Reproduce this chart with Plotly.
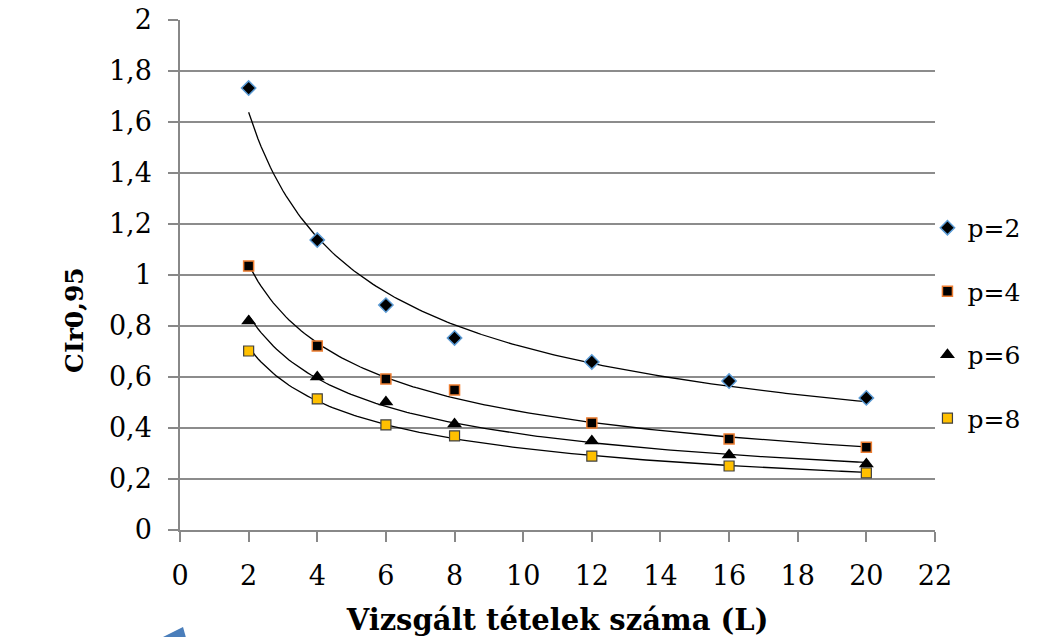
import numpy as np
import plotly.graph_objects as go

L_values = [2, 4, 6, 8, 12, 16, 20]
p2 = [1.733, 1.137, 0.882, 0.753, 0.659, 0.584, 0.518]
p4 = [1.035, 0.722, 0.592, 0.549, 0.420, 0.357, 0.325]
p6 = [0.820, 0.600, 0.502, 0.416, 0.349, 0.294, 0.259]
p8 = [0.702, 0.514, 0.412, 0.369, 0.290, 0.251, 0.224]
series_names = ["p=2", "p=4", "p=6", "p=8"]
x_ticks = list(range(0, 23, 2))
y_ticks = [0, 0.2, 0.4, 0.6, 0.8, 1, 1.2, 1.4, 1.6, 1.8, 2]
y_ticktext = ["0", "0,2", "0,4", "0,6", "0,8", "1", "1,2", "1,4", "1,6", "1,8", "2"]

FONT = "DejaVu Serif"
styles = [
    dict(symbol="diamond", size=11, color="black", line=dict(color="#5B9BD5", width=1.5)),
    dict(symbol="square", size=10, color="black", line=dict(color="#ED7D31", width=1.5)),
    dict(symbol="triangle-up", size=13, color="black", line=dict(color="black", width=0)),
    dict(symbol="square", size=10, color="#FFC000", line=dict(color="#404040", width=1.2)),
]

fig = go.Figure()
xs = np.array(L_values, dtype=float)
xfit = np.linspace(xs.min(), xs.max(), 200)
for name, ys, st in zip(series_names, [p2, p4, p6, p8], styles):
    # power-law trendline fitted from the data (as in the source spreadsheet)
    b, loga = np.polyfit(np.log(xs), np.log(np.array(ys)), 1)
    yfit = np.exp(loga) * xfit ** b
    fig.add_trace(go.Scatter(x=xfit, y=yfit, mode="lines",
                             line=dict(color="black", width=1.3),
                             showlegend=False, hoverinfo="skip"))
for name, ys, st in zip(series_names, [p2, p4, p6, p8], styles):
    fig.add_trace(go.Scatter(x=L_values, y=ys, mode="markers", name=name,
                             legendgroup=name, marker=st))

axis_common = dict(showline=True, linecolor="#888888", linewidth=1.5,
                   ticks="outside", ticklen=10, tickcolor="#888888", tickwidth=1.5,
                   zeroline=False, ticklabeloverflow="allow", automargin=False,
                   tickfont=dict(family=FONT, size=27, color="black"))
fig.update_xaxes(range=[0, 22], tickvals=x_ticks, showgrid=False,
                 ticklabelstandoff=11,
                 title=dict(text="<b>Vizsgált tételek száma (L)</b>",
                            font=dict(family=FONT, size=29, color="black"), standoff=20),
                 **axis_common)
fig.update_yaxes(range=[0, 2], tickvals=y_ticks, ticktext=y_ticktext,
                 showgrid=True, gridcolor="#8c8c8c", gridwidth=1.5,
                 ticklabelstandoff=11,
                 **axis_common)

fig.update_layout(
    width=1051, height=637,
    margin=dict(l=172, r=124, t=12, b=115),
    paper_bgcolor="white", plot_bgcolor="white",
    font=dict(family=FONT, size=25, color="black"),
    legend=dict(x=0.99, y=0.406, xanchor="left", yanchor="middle",
                tracegroupgap=28, font=dict(family=FONT, size=25, color="black"),
                bgcolor="rgba(0,0,0,0)"),
    annotations=[dict(text="<b>CIr0,95</b>", xref="paper", yref="paper",
                      x=-0.139, y=0.412, xanchor="center", yanchor="middle",
                      textangle=-90, showarrow=False,
                      font=dict(family=FONT, size=25, color="black"))],
    shapes=[dict(type="path", xref="paper", yref="paper",
                 path="M -0.0437 -0.2255 L 0.0040 -0.1902 L 0.0106 -0.2255 Z",
                 fillcolor="#4A7EBB", line=dict(width=0))],
)
fig.write_html("out.html")
